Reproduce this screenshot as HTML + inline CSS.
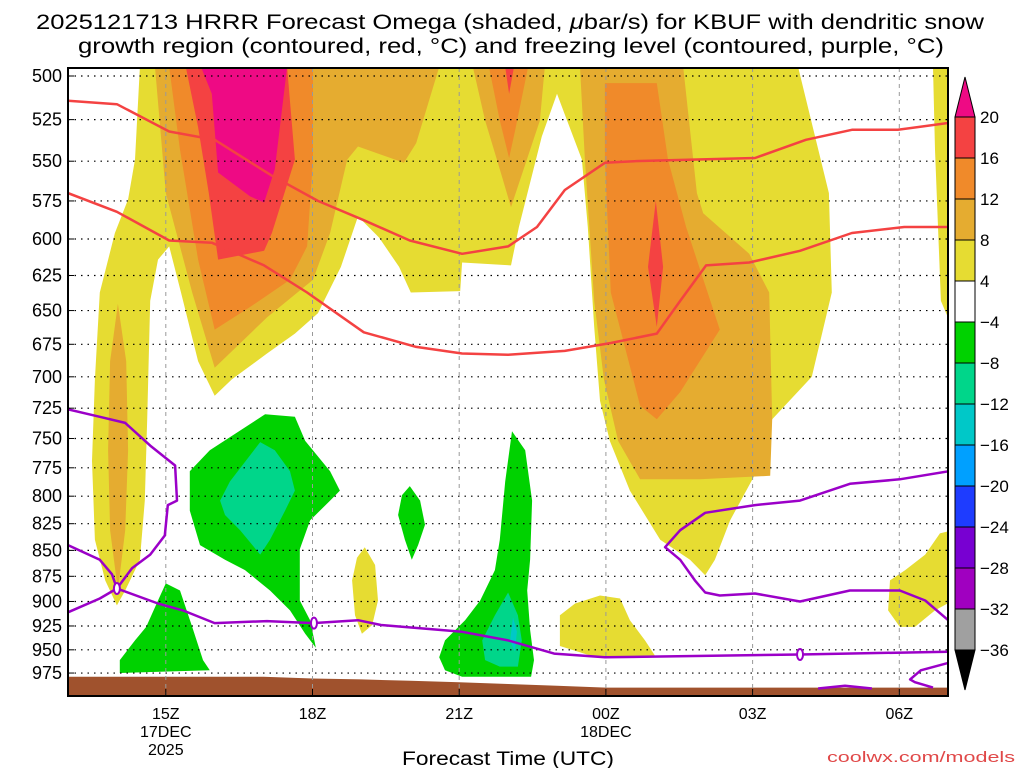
<!DOCTYPE html>
<html><head><meta charset="utf-8"><style>
html,body{margin:0;padding:0;background:#fff;width:1024px;height:768px;overflow:hidden}
svg text{font-family:"Liberation Sans",sans-serif}
</style></head><body>
<svg id="chart" width="1024" height="768" viewBox="0 0 1024 768" xmlns="http://www.w3.org/2000/svg">
<text x="510" y="29" font-size="21" text-anchor="middle" fill="#000" textLength="948" lengthAdjust="spacingAndGlyphs">2025121713 HRRR Forecast Omega (shaded, <tspan font-style="italic">μ</tspan>bar/s) for KBUF with dendritic snow</text>
<text x="511" y="53" font-size="21" text-anchor="middle" fill="#000" textLength="866" lengthAdjust="spacingAndGlyphs">growth region (contoured, red, °C) and freezing level (contoured, purple, °C)</text>
<defs><clipPath id="plotclip"><rect x="68" y="68" width="880" height="628"/></clipPath></defs>
<g id="shade" clip-path="url(#plotclip)"></g>
<g id="grid"></g>
<g id="lines" clip-path="url(#plotclip)"></g>
<g id="axes"></g>
<g id="cbar"></g>
<text x="508" y="765" font-size="19" text-anchor="middle" fill="#000" textLength="212" lengthAdjust="spacingAndGlyphs">Forecast Time (UTC)</text>
<text x="1015" y="762" font-size="15" text-anchor="end" fill="#e04848" textLength="188" lengthAdjust="spacingAndGlyphs">coolwx.com/models</text>
</svg>
<script>
// ---- data (hours after 13Z 17 Dec, pressure hPa) ----
const pressureTicks=[500,525,550,575,600,625,650,675,700,725,750,775,800,825,850,875,900,925,950,975];
const timeTickHours=[2,5,8,11,14,17];
const timeTickLabels=["15Z","18Z","21Z","00Z","03Z","06Z"];
const cbarLabels=["20","16","12","8","4","−4","−8","−12","−16","−20","−24","−28","−32","−36"];
const cbarColors=["#f44242","#f08a2a","#e5ac30","#e6dc32","#ffffff","#00d200","#00d68a","#00c8c8","#00a0ff","#1e3cff","#7800d2","#a000c0","#a0a0a0"];
const surfHours=[0,1,2,3,4,5,6,7,8,9,10,11,12,13,14,15,16,17,18];
const surfPressure=[979,979,979,979,979,981,982,983.5,985,987,989,991,991,991,991,991,991,991,991];
const yellowMain=[[1.47,495],[14.93,495],[15.56,570],[15.62,637],[15.21,700],[14.4,734],[14.15,773],[13.54,822],[13.23,859],[13.03,874],[12.72,859],[12.11,840],[11.49,795],[11.08,752],[10.88,719],[10.76,662],[10.63,592],[10.51,549],[10.16,522],[10.0,510],[9.69,535],[9.22,592],[9.06,618],[8.06,616],[8.02,636],[7.01,637],[6.77,619],[6.36,599],[5.93,585],[5.58,619],[5.11,652],[4.64,667],[4.07,682],[3.35,702],[3.0,715],[2.66,688],[2.31,637],[2.07,605],[1.84,614],[1.68,643],[1.62,734],[1.57,804],[1.47,859],[1.17,889],[1.0,904],[0.76,879],[0.55,840],[0.49,769],[0.55,702],[0.65,637],[0.96,596],[1.23,574],[1.37,549]];
const yellowEdge=[[17.69,495],[18.1,495],[18.1,664],[17.85,643],[17.73,543]];
const yellowBR=[[18.1,831],[18.1,899],[17.73,909],[17.32,926],[17.01,926],[16.77,909],[16.81,879],[17.12,869],[17.53,854],[17.83,834]];
const yellow18=[[6.07,847],[6.28,864],[6.34,899],[6.22,924],[6.01,933],[5.87,914],[5.81,879],[5.91,857]];
const yellow00=[[10.06,914],[10.37,902],[10.88,894],[11.29,897],[11.49,919],[11.8,940],[12.0,956],[11.29,958],[10.67,956],[10.06,946]];
const tanLeft=[[1.78,495],[7.59,495],[7.12,539],[6.87,551],[5.93,541],[5.71,549],[5.36,596],[5.01,628],[4.07,655],[3.0,693],[2.54,637],[2.0,570]];
const tanTop=[[8.28,495],[9.75,495],[9.65,525.5],[9.35,552],[9.06,579],[8.83,555],[8.53,525.5]];
const tanPlume=[[1.02,645],[1.19,688],[1.23,760],[1.17,831],[1.02,889],[0.86,831],[0.82,760],[0.86,688]];
const tanRight=[[10.47,495],[12.58,495],[12.86,570],[12.99,583],[13.93,610],[14.34,637],[14.4,734],[14.36,782],[12.92,785],[11.7,785],[11.25,752],[10.96,702],[10.76,643],[10.57,549]];
const orangeLeft=[[2.07,495],[5.01,495],[5.01,549],[4.89,605],[4.54,628],[3.7,648],[3.0,664],[2.66,614],[2.29,543]];
const orangeTop=[[8.61,495],[9.41,495],[9.14,532],[9.02,548],[8.83,525.5]];
const orangeRight=[[10.98,504],[12.04,504],[12.27,549],[12.64,592],[13.33,664],[12.52,712],[12.04,734],[11.7,723],[11.1,637],[10.98,549]];
const redLeft=[[2.41,495],[4.48,495],[4.64,549],[4.17,596],[4.01,608],[3.07,614],[2.88,570],[2.66,529.5]];
const redTop=[[8.94,495],[9.12,495],[9.02,510]];
const redRight=[[12.02,575],[12.17,619],[12.04,662],[11.86,619]];
const magentaCore=[[2.72,495],[4.48,495],[4.23,555],[4.01,576],[3.72,572],[3.07,557],[2.94,510]];
const green18=[[2.49,778],[2.9,760],[4.03,730],[4.64,732],[4.85,752],[5.36,778],[5.56,795],[5.36,804],[4.95,822],[4.74,849],[4.74,899],[4.95,919],[5.07,948],[4.85,933],[4.54,909],[4.13,889],[3.62,869],[3.21,859],[2.7,845],[2.49,813]];
const green15=[[2.0,882],[2.29,889],[2.54,926],[2.76,961],[2.9,972],[1.06,975],[1.06,961],[1.37,940],[1.6,926],[1.84,899]];
const greenSmall=[[6.99,791],[7.2,804],[7.3,826],[7.16,845],[7.03,859],[6.89,840],[6.75,817],[6.83,799]];
const green22=[[9.08,744],[9.35,760],[9.49,804],[9.45,859],[9.39,889],[9.45,929],[9.53,961],[9.47,979],[8.06,979],[7.71,972],[7.59,958],[7.71,940],[8.12,919],[8.43,899],[8.73,869],[8.83,840],[8.94,787]];
const teal18=[[3.11,804],[3.31,787],[3.93,753],[4.23,760],[4.54,778],[4.64,795],[4.44,813],[4.13,840],[3.93,854],[3.52,831],[3.21,817]];
const teal22=[[9.0,891],[9.2,914],[9.28,940],[9.2,968],[8.83,968],[8.53,961],[8.47,940],[8.73,914]];
const cyan22=[[9.1,916],[9.18,931],[9.14,952],[9.04,940]];
const dgzTop=[[0,514],[1.0,516],[2.07,532],[3.0,537],[4.17,559],[5.11,575],[6.05,587.5],[6.99,601],[8.06,610],[9.0,605],[9.59,592],[10.16,568],[10.98,551],[11.57,550],[14.05,548],[15.09,537],[16.03,531],[16.97,531],[18,527]];
const dgzBottom=[[0,570],[1.0,582],[2.07,601],[2.94,602.5],[4.01,618],[4.89,637],[6.05,666],[7.12,677],[8.06,682],[9.0,683],[10.16,680],[11.1,674],[12.04,667],[12.52,643],[13.05,618],[13.93,616],[14.97,608],[16.03,596],[17.1,592],[18,592]];
const frzA=[[0,726],[0.65,732],[1.17,737],[1.68,756],[2.19,773],[2.23,804],[2.04,808],[1.98,836],[1.68,854],[1.31,867],[1.0,887],[0.65,897],[0,911]];
const frzB=[[0,845],[0.65,859],[0.9,873],[1.0,887],[1.84,902],[2.35,909],[3.0,922],[4.07,920],[5.01,922],[5.93,919],[6.4,924],[8.06,931],[9.0,940],[9.94,954],[10.98,958],[14.97,955],[18,952]];
const frzC=[[18,778],[17.01,785],[15.99,789],[14.97,804],[14.05,808],[13.03,815],[12.52,831],[12.21,847],[12.52,859],[12.82,879],[13.03,891],[13.33,894],[14.05,892],[14.97,900],[15.99,889],[17.01,889],[17.53,899],[18,919]];
const frzD=[[18,964],[17.44,972],[17.22,982],[17.32,985],[17.69,991]];
const frzE=[[15.34,992],[15.89,989],[16.44,992]];
const frzLabels=[[1.0,887],[5.03,922],[14.97,955]];

const NS="http://www.w3.org/2000/svg";
const X0=68,XW=48.9,Y0=76,YK=894;
function xs(h){return X0+h*XW;}
function ys(p){return Y0+YK*Math.log(p/500);}
function mk(tag,attrs,parent){const e=document.createElementNS(NS,tag);for(const k in attrs)e.setAttribute(k,attrs[k]);parent.appendChild(e);return e;}
function pts(arr){return arr.map(d=>xs(d[0]).toFixed(1)+","+ys(d[1]).toFixed(1)).join(" ");}

const shade=document.getElementById('shade');
const layers=[
 ["yellow-region",yellowMain,"#e6dc32"],["yellow-region",yellowEdge,"#e6dc32"],["yellow-region",yellowBR,"#e6dc32"],["yellow-region",yellow18,"#e6dc32"],["yellow-region",yellow00,"#e6dc32"],
 ["tan-region",tanLeft,"#e5ac30"],["tan-region",tanTop,"#e5ac30"],["tan-region",tanPlume,"#e5ac30"],["tan-region",tanRight,"#e5ac30"],
 ["orange-region",orangeLeft,"#f08a2a"],["orange-region",orangeTop,"#f08a2a"],["orange-region",orangeRight,"#f08a2a"],
 ["red-region",redLeft,"#f44242"],["red-region",redTop,"#f44242"],["red-region",redRight,"#f44242"],
 ["magenta-region",magentaCore,"#ee0a84"],
 ["green-region",green18,"#00d200"],["green-region",green15,"#00d200"],["green-region",greenSmall,"#00d200"],["green-region",green22,"#00d200"],
 ["teal-region",teal18,"#00d68a"],["teal-region",teal22,"#00d68a"],["cyan-region",cyan22,"#00c8c8"]
];
layers.forEach(l=>{
 const e=mk('polygon',{points:pts(l[1]),fill:l[2]},shade);
 
 
});
const terr=surfHours.map((h,i)=>[h,surfPressure[i]]);
terr.push([18,1010]);terr.push([0,1010]);
const te=mk('polygon',{points:pts(terr),fill:"#a0522d"},shade);



const grid=document.getElementById('grid');
pressureTicks.forEach(p=>{
 const l=mk('line',{x1:68,x2:948,y1:ys(p),y2:ys(p),stroke:"#000","stroke-width":1.2,"stroke-dasharray":"1.5,5"},grid);
 
 
});
timeTickHours.forEach(h=>{
 const l=mk('line',{x1:xs(h),x2:xs(h),y1:68,y2:696,stroke:"#999","stroke-width":1,"stroke-dasharray":"4,4"},grid);
 
 
});

const lines=document.getElementById('lines');
[["dgz-upper-contour",dgzTop,"#f44242"],["dgz-lower-contour",dgzBottom,"#f44242"],
 ["freezing-level-contour",frzA,"#9b00c8"],["freezing-level-contour",frzB,"#9b00c8"],["freezing-level-contour",frzC,"#9b00c8"],["freezing-level-contour",frzD,"#9b00c8"],["freezing-level-contour",frzE,"#9b00c8"]
].forEach(c=>{
 const e=mk('polyline',{points:pts(c[1]),fill:"none",stroke:c[2],"stroke-width":2.5,"stroke-linejoin":"round"},lines);
 
 
});
frzLabels.forEach(d=>{
 const e=mk('ellipse',{cx:xs(d[0]),cy:ys(d[1]),rx:3,ry:5.5,fill:"#fff",stroke:"#9b00c8","stroke-width":2},lines);
 
 
});

const axes=document.getElementById('axes');
const fr=mk('rect',{x:68,y:68,width:880,height:628,fill:"none",stroke:"#000","stroke-width":2},axes);


pressureTicks.forEach(p=>{
 const t=mk('text',{x:62,y:ys(p)+6,"font-size":18,"text-anchor":"end",fill:"#000"},axes);
 t.textContent=p;
 
 
 mk('line',{x1:68,x2:74,y1:ys(p),y2:ys(p),stroke:"#000","stroke-width":1},axes);
});
timeTickHours.forEach((h,i)=>{
 const t=mk('text',{x:xs(h),y:719,"font-size":16,"text-anchor":"middle",fill:"#000"},axes);
 t.textContent=timeTickLabels[i];
 
 
 mk('line',{x1:xs(h),x2:xs(h),y1:696,y2:689,stroke:"#000","stroke-width":1},axes);
});
[["17DEC",xs(2),737],["2025",xs(2),755],["18DEC",xs(11),737]].forEach(d=>{
 const t=mk('text',{x:d[1],y:d[2],"font-size":16,"text-anchor":"middle",fill:"#000"},axes);
 t.textContent=d[0];
 
 
});

const cb=document.getElementById('cbar');
const cbTop=117,cbStep=41,cbx=955,cbw=20;
const tri1=mk('polygon',{points:`${cbx},${cbTop} ${cbx+cbw},${cbTop} ${cbx+cbw/2},${cbTop-40}`,fill:"#ee0a84",stroke:"#000","stroke-width":1},cb);


cbarColors.forEach((c,i)=>{
 const r=mk('rect',{x:cbx,y:cbTop+i*cbStep,width:cbw,height:cbStep,fill:c,stroke:"#000","stroke-width":1},cb);
 
 
});
const bot=cbTop+cbarColors.length*cbStep;
const tri2=mk('polygon',{points:`${cbx},${bot} ${cbx+cbw},${bot} ${cbx+cbw/2},${bot+40}`,fill:"#000",stroke:"#000","stroke-width":1},cb);


cbarLabels.forEach((s,i)=>{
 const t=mk('text',{x:980,y:cbTop+i*cbStep+6,"font-size":17,fill:"#000"},cb);
 t.textContent=s;
 
 
});
</script>
</body></html>
